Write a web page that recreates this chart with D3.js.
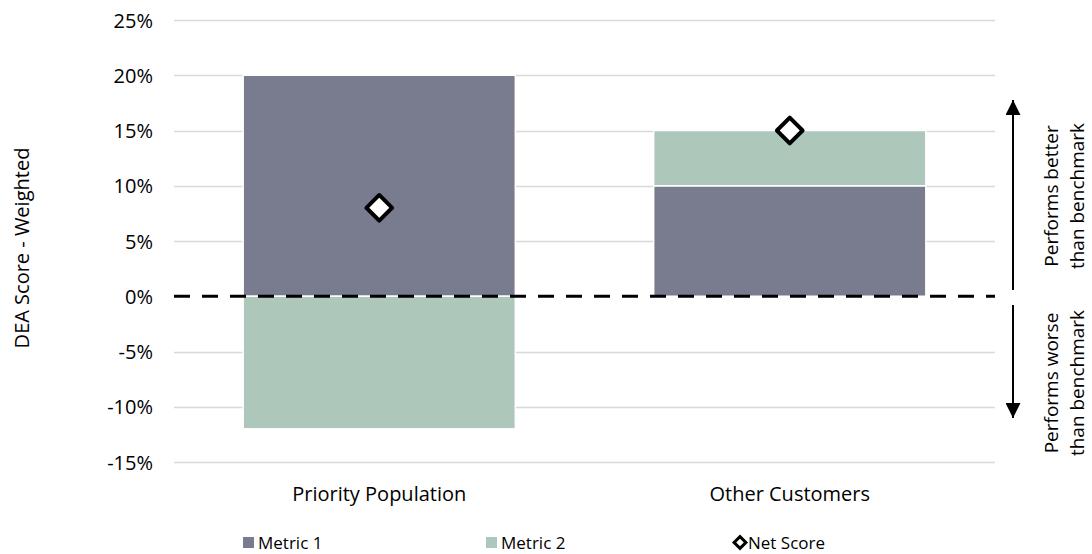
<!DOCTYPE html>
<html>
<head>
<meta charset="utf-8">
<script src="https://cdn.jsdelivr.net/npm/d3@7"></script>
<style>
  html, body { margin: 0; padding: 0; background: #fff; }
  svg text { font-family: "Open Sans", "Noto Sans", sans-serif; fill: #000; }
</style>
</head>
<body>
<svg id="chart" width="1092" height="554"></svg>
<script>
// Chart data
const categories = ["Priority Population", "Other Customers"];
const metric1 = [0.20, 0.10];
const metric2 = [-0.12, 0.05];
const netScore = [0.08, 0.15];
const yTicks = [-0.15, -0.10, -0.05, 0, 0.05, 0.10, 0.15, 0.20, 0.25];
const seriesNames = ["Metric 1", "Metric 2", "Net Score"];

const colors = { m1: "#797b8f", m2: "#aec7bb", grid: "#d9d9d9" };
const axisFont = "20px";

const svg = d3.select("#chart");
const plot = { left: 174, right: 995, top: 20, bottom: 462 };

const x = d3.scaleBand().domain(categories).range([plot.left, plot.right]).paddingInner(0.337).paddingOuter(0.1685);
const y = d3.scaleLinear().domain([-0.15, 0.25]).range([plot.bottom, plot.top]);

// gridlines
svg.append("g").selectAll("line").data(yTicks.filter(d => d !== 0)).join("line")
  .attr("x1", plot.left).attr("x2", plot.right)
  .attr("y1", d => Math.round(y(d)) + 0.5).attr("y2", d => Math.round(y(d)) + 0.5)
  .attr("stroke", colors.grid).attr("stroke-width", 1.5);

// y axis labels
const yAxis = d3.axisLeft(y).tickValues(yTicks).tickFormat(d3.format(".0%")).tickSize(0).tickPadding(0);
const ya = svg.append("g").attr("transform", `translate(153,0)`).call(yAxis);
ya.select(".domain").remove();
ya.selectAll("text").style("font-size", axisFont).style("font-family", "\"Open Sans\", sans-serif")
  .attr("fill", "#000").attr("dy", "0.35em").text(d => d3.format(".0%")(d).replace("−", "-"));

// stacked segments: positive values stack upward from zero, negative downward
const segments = [];
categories.forEach((c, i) => {
  let pos = 0, neg = 0;
  [[metric1[i], colors.m1], [metric2[i], colors.m2]].forEach(([v, col]) => {
    let y0, y1;
    if (v >= 0) { y0 = pos; y1 = pos + v; pos = y1; }
    else { y0 = neg; y1 = neg + v; neg = y1; }
    segments.push({ c, y0, y1, col });
  });
});

svg.append("g").selectAll("rect").data(segments).join("rect")
  .attr("x", d => x(d.c))
  .attr("width", x.bandwidth())
  .attr("y", d => y(Math.max(d.y0, d.y1)))
  .attr("height", d => Math.abs(y(d.y0) - y(d.y1)))
  .attr("fill", d => d.col)
  .attr("stroke", "#fff").attr("stroke-width", 1.5);

// zero baseline
svg.append("line")
  .attr("x1", plot.left).attr("x2", plot.right)
  .attr("y1", y(0)).attr("y2", y(0))
  .attr("stroke", "#000").attr("stroke-width", 3)
  .attr("stroke-dasharray", "16,12");

// net score markers
const diamond = d3.symbol().type(d3.symbolSquare).size(330);
svg.append("g").selectAll("path").data(categories).join("path")
  .attr("d", diamond)
  .attr("transform", (d, i) => `translate(${x(d) + x.bandwidth() / 2},${y(netScore[i])}) rotate(45)`)
  .attr("fill", "#fff").attr("stroke", "#000").attr("stroke-width", 4)
  .attr("stroke-linejoin", "round");

// category labels
svg.append("g").selectAll("text").data(categories).join("text")
  .attr("x", d => x(d) + x.bandwidth() / 2).attr("y", 501)
  .attr("text-anchor", "middle").style("font-size", axisFont).text(d => d);

// y axis title
svg.append("text")
  .attr("transform", "translate(29,248) rotate(-90)")
  .attr("text-anchor", "middle").style("font-size", axisFont)
  .text("DEA Score - Weighted");

// benchmark arrows
const defs = svg.append("defs");
defs.append("marker").attr("id", "ah").attr("viewBox", "0 0 10 10")
  .attr("refX", 10).attr("refY", 5).attr("markerWidth", 7.5).attr("markerHeight", 7.5)
  .attr("markerUnits", "strokeWidth").attr("orient", "auto")
  .append("path").attr("d", "M0,0 L10,5 L0,10 Z").attr("fill", "#000");

svg.append("line").attr("x1", 1013).attr("x2", 1013).attr("y1", 290).attr("y2", 100)
  .attr("stroke", "#000").attr("stroke-width", 2).attr("marker-end", "url(#ah)");
svg.append("line").attr("x1", 1013).attr("x2", 1013).attr("y1", 305).attr("y2", 418)
  .attr("stroke", "#000").attr("stroke-width", 2).attr("marker-end", "url(#ah)");

function sideNote(cy, lines) {
  const t = svg.append("text").attr("transform", `translate(1058,${cy}) rotate(-90)`)
    .attr("text-anchor", "middle").style("font-size", "19px");
  lines.forEach((l, i) => t.append("tspan").attr("x", 0).attr("dy", i === 0 ? 0 : "1.35em").text(l));
}
sideNote(196, ["Performs better", "than benchmark"]);
sideNote(383, ["Performs worse", "than benchmark"]);

// legend
const lg = svg.append("g").style("font-size", "17px");
const legendX = [243, 486, 733];
lg.append("rect").attr("x", legendX[0]).attr("y", 537).attr("width", 11).attr("height", 11).attr("fill", colors.m1);
lg.append("text").attr("x", legendX[0] + 15).attr("y", 548.5).text(seriesNames[0]);
lg.append("rect").attr("x", legendX[1]).attr("y", 537).attr("width", 11).attr("height", 11).attr("fill", colors.m2);
lg.append("text").attr("x", legendX[1] + 15).attr("y", 548.5).text(seriesNames[1]);
lg.append("path").attr("d", d3.symbol().type(d3.symbolSquare).size(70))
  .attr("transform", `translate(${legendX[2] + 7},542.5) rotate(45)`)
  .attr("fill", "#fff").attr("stroke", "#000").attr("stroke-width", 3);
lg.append("text").attr("x", legendX[2] + 15).attr("y", 548.5).text(seriesNames[2]);
</script>
</body>
</html>
